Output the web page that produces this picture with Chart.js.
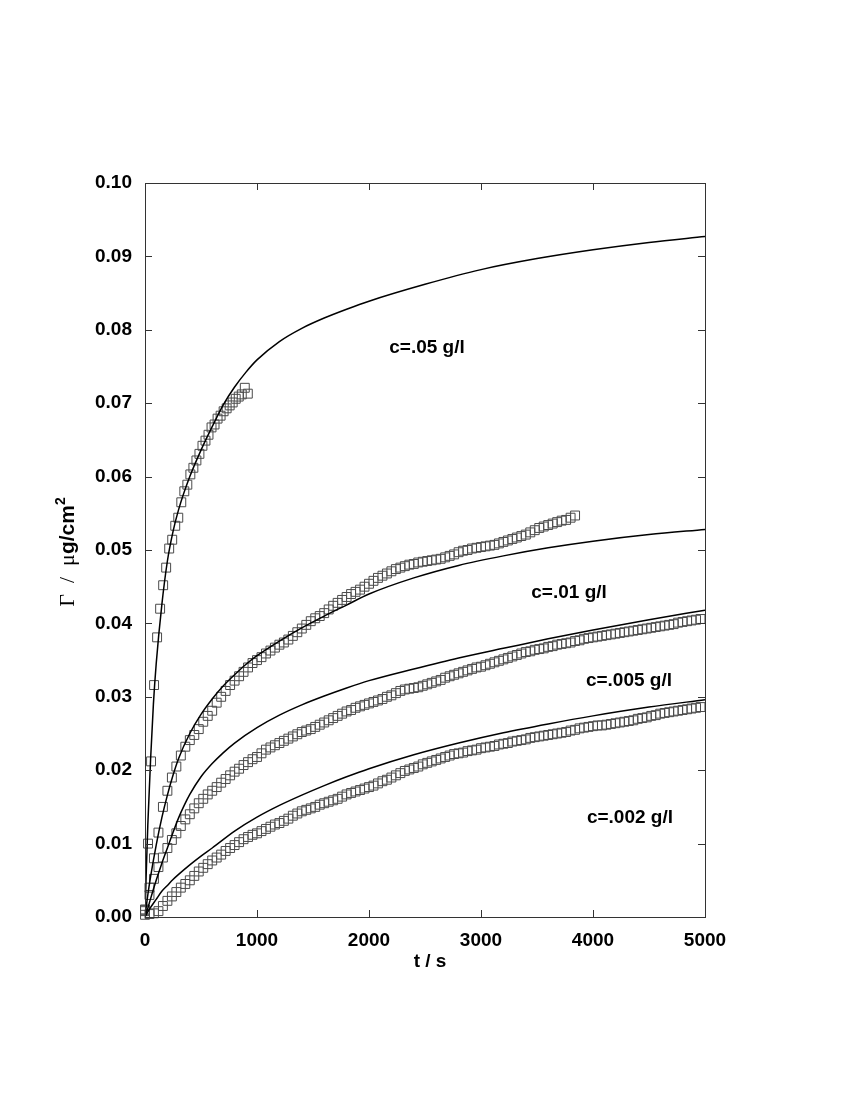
<!DOCTYPE html>
<html>
<head>
<meta charset="utf-8">
<script src="https://cdn.jsdelivr.net/npm/chart.js@4.4.1/dist/chart.umd.min.js"></script>
<style>
  html, body { margin: 0; padding: 0; background: #fff; }
  canvas { display: block; }
</style>
</head>
<body>
<canvas id="chart" width="850" height="1100"></canvas>
<script>
// measured data, c = .05 g/l (t in s, gamma in ug/cm2)
const s1T = [0, 27, 54, 81, 108, 135, 162, 189, 216, 243, 270, 297, 324, 351, 378, 405, 432, 459,
  486, 513, 540, 567, 594, 621, 648, 675, 702, 729, 756, 783, 810, 837, 864, 891, 918];
const s1G = [0.0010, 0.0100, 0.0212, 0.0316, 0.0381, 0.0420, 0.0452, 0.0476, 0.0502, 0.0514,
  0.0533, 0.0544, 0.0565, 0.0580, 0.0589, 0.0603, 0.0612, 0.0622, 0.0631, 0.0642, 0.0649,
  0.0657, 0.0667, 0.0671, 0.0679, 0.0683, 0.0689, 0.0693, 0.0697, 0.0701, 0.0706, 0.0709,
  0.0712, 0.0721, 0.0713];

// sampling times of the other three runs
const tGrid = [
  0, 40, 80, 120, 160, 200, 240, 280, 320, 360,
  400, 440, 480, 520, 560, 600, 640, 680, 720, 760,
  800, 840, 880, 920, 960, 1000, 1040, 1080, 1120, 1160,
  1200, 1240, 1280, 1320, 1360, 1400, 1440, 1480, 1520, 1560,
  1600, 1640, 1680, 1720, 1760, 1800, 1840, 1880, 1920, 1960,
  2000, 2040, 2080, 2120, 2160, 2200, 2240, 2280, 2320, 2360,
  2400, 2440, 2480, 2520, 2560, 2600, 2640, 2680, 2720, 2760,
  2800, 2840, 2880, 2920, 2960, 3000, 3040, 3080, 3120, 3160,
  3200, 3240, 3280, 3320, 3360, 3400, 3440, 3480, 3520, 3560,
  3600, 3640, 3680, 3720, 3760, 3800, 3840, 3880, 3920, 3960,
  4000, 4040, 4080, 4120, 4160, 4200, 4240, 4280, 4320, 4360,
  4400, 4440, 4480, 4520, 4560, 4600, 4640, 4680, 4720, 4760,
  4800, 4840, 4880, 4920, 4960];

// c = .01 g/l (runs to 3840 s)
const s2G = [
  0.0010, 0.0040, 0.0080, 0.0115, 0.0150, 0.0172, 0.0190, 0.0205, 0.0220, 0.0232,
  0.0241, 0.0248, 0.0256, 0.0266, 0.0274, 0.0281, 0.0292, 0.0300, 0.0308, 0.0316,
  0.0322, 0.0328, 0.0334, 0.0340, 0.0346, 0.0350, 0.0354, 0.0359, 0.0363, 0.0367,
  0.0371, 0.0374, 0.0378, 0.0383, 0.0388, 0.0393, 0.0398, 0.0403, 0.0407, 0.0410,
  0.0414, 0.0419, 0.0424, 0.0428, 0.0432, 0.0436, 0.0440, 0.0443, 0.0446, 0.0450,
  0.0454, 0.0458, 0.0462, 0.0465, 0.0468, 0.0471, 0.0474, 0.0476, 0.0478, 0.0480,
  0.0481, 0.0483, 0.0484, 0.0485, 0.0486, 0.0487, 0.0488, 0.0490, 0.0492, 0.0494,
  0.0497, 0.0499, 0.0500, 0.0502, 0.0503, 0.0504, 0.0505, 0.0506, 0.0507, 0.0509,
  0.0511, 0.0513, 0.0515, 0.0517, 0.0519, 0.0521, 0.0524, 0.0527, 0.0530, 0.0532,
  0.0534, 0.0536, 0.0538, 0.0540, 0.0541, 0.0544, 0.0547];

// c = .005 g/l
const s3G = [
  0.0008, 0.0030, 0.0052, 0.0068, 0.0081, 0.0094, 0.0105, 0.0114, 0.0124, 0.0133,
  0.0140, 0.0148, 0.0155, 0.0161, 0.0167, 0.0172, 0.0177, 0.0183, 0.0188, 0.0193,
  0.0198, 0.0202, 0.0207, 0.0211, 0.0215, 0.0218, 0.0223, 0.0228, 0.0231, 0.0234,
  0.0237, 0.0240, 0.0243, 0.0246, 0.0249, 0.0252, 0.0254, 0.0256, 0.0259, 0.0262,
  0.0265, 0.0268, 0.0271, 0.0274, 0.0277, 0.0280, 0.0282, 0.0285, 0.0287, 0.0289,
  0.0291, 0.0293, 0.0295, 0.0297, 0.0300, 0.0302, 0.0305, 0.0308, 0.0310, 0.0311,
  0.0312, 0.0313, 0.0315, 0.0317, 0.0319, 0.0321, 0.0323, 0.0326, 0.0328, 0.0330,
  0.0332, 0.0334, 0.0336, 0.0338, 0.0340, 0.0341, 0.0343, 0.0345, 0.0347, 0.0349,
  0.0351, 0.0353, 0.0355, 0.0357, 0.0359, 0.0361, 0.0362, 0.0364, 0.0365, 0.0366,
  0.0368, 0.0369, 0.0371, 0.0372, 0.0373, 0.0374, 0.0376, 0.0377, 0.0379, 0.0380,
  0.0381, 0.0382, 0.0383, 0.0384, 0.0385, 0.0386, 0.0387, 0.0388, 0.0389, 0.0390,
  0.0391, 0.0392, 0.0393, 0.0394, 0.0395, 0.0396, 0.0397, 0.0398, 0.0399, 0.0401,
  0.0402, 0.0403, 0.0404, 0.0405, 0.0406];

// c = .002 g/l
const s4G = [
  0.0003, 0.0004, 0.0005, 0.0008, 0.0015, 0.0022, 0.0028, 0.0034, 0.0040, 0.0045,
  0.0050, 0.0056, 0.0062, 0.0067, 0.0072, 0.0077, 0.0081, 0.0085, 0.0090, 0.0094,
  0.0098, 0.0102, 0.0106, 0.0109, 0.0112, 0.0114, 0.0117, 0.0120, 0.0123, 0.0126,
  0.0128, 0.0131, 0.0134, 0.0138, 0.0141, 0.0144, 0.0146, 0.0148, 0.0150, 0.0153,
  0.0155, 0.0157, 0.0159, 0.0161, 0.0164, 0.0167, 0.0169, 0.0171, 0.0173, 0.0175,
  0.0177, 0.0179, 0.0182, 0.0185, 0.0187, 0.0190, 0.0193, 0.0196, 0.0199, 0.0201,
  0.0203, 0.0205, 0.0208, 0.0210, 0.0212, 0.0214, 0.0216, 0.0218, 0.0220, 0.0222,
  0.0223, 0.0224, 0.0226, 0.0227, 0.0228, 0.0230, 0.0231, 0.0232, 0.0233, 0.0235,
  0.0236, 0.0237, 0.0239, 0.0240, 0.0241, 0.0242, 0.0244, 0.0245, 0.0246, 0.0247,
  0.0248, 0.0249, 0.0250, 0.0251, 0.0252, 0.0254, 0.0255, 0.0257, 0.0258, 0.0259,
  0.0260, 0.0261, 0.0261, 0.0262, 0.0263, 0.0264, 0.0265, 0.0266, 0.0267, 0.0268,
  0.0270, 0.0271, 0.0272, 0.0274, 0.0275, 0.0277, 0.0278, 0.0279, 0.0280, 0.0281,
  0.0282, 0.0283, 0.0284, 0.0285, 0.0286];

// model curves
const f1T = [0, 10, 25, 50, 75, 100, 150, 200, 250, 300, 400, 500, 600, 700, 800, 900, 1000,
  1200, 1400, 1600, 1800, 2000, 2500, 3000, 3500, 4000, 4500, 5000];
const f1G = [0, 0.0055, 0.0125, 0.0215, 0.0290, 0.0345, 0.0425, 0.0485, 0.0525, 0.0555, 0.0600,
  0.0636, 0.0668, 0.0698, 0.0722, 0.0742, 0.0759, 0.0784, 0.0802, 0.0816, 0.0828, 0.0839,
  0.0862, 0.0882, 0.0897, 0.0909, 0.0919, 0.0927];

const f2T = [0, 25, 50, 100, 150, 200, 250, 300, 400, 500, 600, 700, 800, 900, 1000, 1200, 1400,
  1600, 1800, 2000, 2400, 2800, 3200, 3600, 4000, 4500, 5000];
const f2G = [0, 0.0030, 0.0055, 0.0098, 0.0135, 0.0166, 0.0193, 0.0216, 0.0250, 0.0276, 0.0297,
  0.0315, 0.0330, 0.0344, 0.0356, 0.0376, 0.0394, 0.0410, 0.0425, 0.0440, 0.0462, 0.0479,
  0.0492, 0.0503, 0.0512, 0.0521, 0.0528];

const f3T = [0, 25, 50, 100, 150, 200, 250, 300, 350, 400, 500, 600, 700, 800, 1000, 1200, 1400,
  1600, 1800, 2000, 2400, 2800, 3200, 3600, 4000, 4500, 5000];
const f3G = [0, 0.0012, 0.0025, 0.0050, 0.0073, 0.0094, 0.0115, 0.0135, 0.0152, 0.0167, 0.0191,
  0.0209, 0.0224, 0.0237, 0.0258, 0.0275, 0.0289, 0.0301, 0.0312, 0.0322, 0.0338, 0.0353,
  0.0366, 0.0379, 0.0391, 0.0405, 0.0418];

const f4T = [0, 25, 50, 100, 150, 200, 250, 300, 400, 500, 600, 800, 1000, 1200, 1400, 1600, 1800,
  2000, 2400, 2800, 3200, 3600, 4000, 4500, 5000];
const f4G = [0, 0.0007, 0.0013, 0.0024, 0.0035, 0.0043, 0.0051, 0.0058, 0.0071, 0.0083, 0.0094,
  0.0117, 0.0136, 0.0152, 0.0166, 0.0179, 0.0191, 0.0202, 0.0221, 0.0237, 0.0251, 0.0263,
  0.0274, 0.0286, 0.0296];

const xTicks = ['0', '1000', '2000', '3000', '4000', '5000'];
const yTicks = ['0.00', '0.01', '0.02', '0.03', '0.04', '0.05', '0.06', '0.07', '0.08', '0.09', '0.10'];

const curveLabels = ['c=.05 g/l', 'c=.01 g/l', 'c=.005 g/l', 'c=.002 g/l'];
const labelT = [2518, 3786, 4321, 4330];
const labelG = [0.0776, 0.0442, 0.0322, 0.0135];

const SANS = '"Liberation Sans", Arial, Helvetica, sans-serif';
const SERIF = '"Liberation Serif", "DejaVu Serif", serif';

function pts(ts, gs) {
  return gs.map((g, i) => ({ x: ts[i], y: g }));
}

function dataSet(ts, gs) {
  return {
    data: pts(ts, gs),
    showLine: false,
    pointStyle: 'rect',
    pointRadius: 6.3,
    pointBorderWidth: 1,
    pointBorderColor: '#4a4a4a',
    pointBackgroundColor: 'rgba(0,0,0,0)',
    clip: false,
    order: 2
  };
}

function fitSet(ts, gs) {
  return {
    data: pts(ts, gs),
    showLine: true,
    borderColor: '#000',
    borderWidth: 1.5,
    pointRadius: 0,
    cubicInterpolationMode: 'monotone',
    fill: false,
    order: 1
  };
}

// frame, inward ticks on all four sides, texts
const decor = {
  id: 'decor',
  afterDraw(chart) {
    const { ctx, chartArea: a, scales: { x, y } } = chart;
    ctx.save();
    ctx.strokeStyle = '#333';
    ctx.lineWidth = 1;
    ctx.strokeRect(a.left + 0.5, a.top + 0.5, a.right - a.left, a.bottom - a.top);
    const tl = 7;
    ctx.beginPath();
    x.ticks.forEach(t => {
      const px = Math.round(x.getPixelForValue(t.value)) + 0.5;
      ctx.moveTo(px, a.bottom); ctx.lineTo(px, a.bottom - tl);
      ctx.moveTo(px, a.top); ctx.lineTo(px, a.top + tl);
    });
    y.ticks.forEach(t => {
      const py = Math.round(y.getPixelForValue(t.value)) + 0.5;
      ctx.moveTo(a.left, py); ctx.lineTo(a.left + tl, py);
      ctx.moveTo(a.right, py); ctx.lineTo(a.right - tl, py);
    });
    ctx.stroke();

    ctx.fillStyle = '#000';
    ctx.textAlign = 'center';
    ctx.textBaseline = 'middle';
    ctx.font = 'bold 19px ' + SANS;
    curveLabels.forEach((s, i) => {
      ctx.fillText(s, x.getPixelForValue(labelT[i]), y.getPixelForValue(labelG[i]));
    });

    // x title
    ctx.font = 'bold 19px ' + SANS;
    ctx.fillText('t / s', 430, 962);

    // y title, rotated, mixed fonts
    const parts = [
      { t: '\u0393  /  ', f: 'normal 22px ' + SERIF, dy: 0 },
      { t: '\u03bc', f: 'normal 22px ' + SERIF, dy: 0 },
      { t: 'g/cm', f: 'bold 21px ' + SANS, dy: 0 },
      { t: '2', f: 'bold 14px ' + SANS, dy: -9 }
    ];
    let w = 0;
    parts.forEach(p => { ctx.font = p.f; p.w = ctx.measureText(p.t).width; w += p.w; });
    ctx.translate(66, 552);
    ctx.rotate(-Math.PI / 2);
    ctx.textAlign = 'left';
    ctx.textBaseline = 'alphabetic';
    let cx = -w / 2;
    parts.forEach(p => {
      ctx.font = p.f;
      ctx.fillText(p.t, cx, 8 + p.dy);
      cx += p.w;
    });
    ctx.restore();
  }
};

new Chart(document.getElementById('chart'), {
  type: 'scatter',
  data: {
    datasets: [
      fitSet(f1T, f1G), fitSet(f2T, f2G), fitSet(f3T, f3G), fitSet(f4T, f4G),
      dataSet(s1T, s1G),
      dataSet(tGrid.slice(0, s2G.length), s2G),
      dataSet(tGrid, s3G),
      dataSet(tGrid, s4G)
    ]
  },
  options: {
    responsive: false,
    animation: false,
    devicePixelRatio: 1,
    layout: { padding: { top: 183, right: 145, left: 0, bottom: 0 } },
    plugins: { legend: { display: false }, tooltip: { enabled: false } },
    scales: {
      x: {
        type: 'linear', min: 0, max: 5000,
        afterFit: s => { s.height = 183; },
        grid: { display: false, drawTicks: false },
        border: { display: false },
        ticks: {
          stepSize: 1000, maxRotation: 0, padding: 12, color: '#000',
          font: { family: SANS, size: 19, weight: 'bold' },
          callback: (v, i) => xTicks[i]
        }
      },
      y: {
        type: 'linear', min: 0, max: 0.1,
        afterFit: s => { s.width = 145; },
        grid: { display: false, drawTicks: false },
        border: { display: false },
        ticks: {
          stepSize: 0.01, padding: 13, color: '#000',
          font: { family: SANS, size: 19, weight: 'bold' },
          callback: (v, i) => yTicks[i]
        }
      }
    }
  },
  plugins: [decor]
});
</script>
</body>
</html>
